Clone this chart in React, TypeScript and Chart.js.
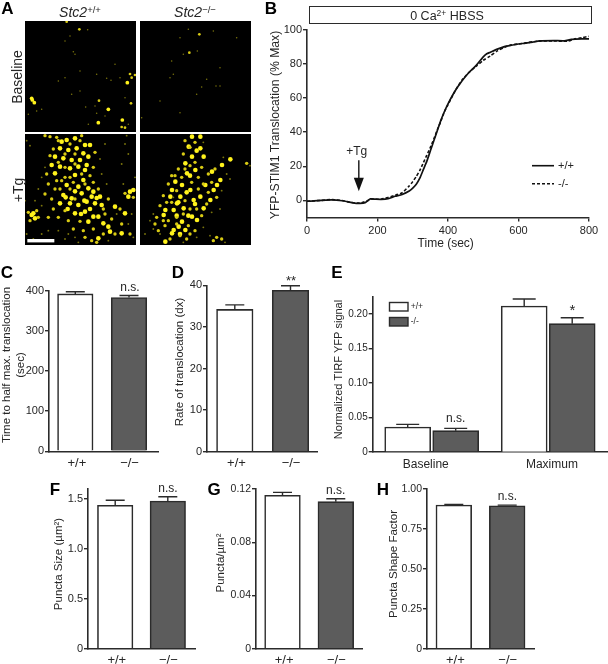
import { useEffect, useRef } from 'react';
import { Chart, registerables } from 'chart.js';

Chart.register(...registerables);

const FONT = '"Liberation Sans", Arial, sans-serif';
const INK = '#262626';
const AXIS = '#2b2b2b';
const GREY = '#5c5c5c';
const Y_BAND = 36;
const xBand = (B: number) => Math.min(22, 664 - B - 0.2);

// ---- Panel B: time course ----
const wtTime = [0, 20, 40, 70, 100, 120, 135, 150, 165, 172, 180, 195, 210, 230, 250, 270, 290, 300, 310, 320, 330, 340, 350, 360, 370, 380, 390, 400, 420, 440, 460, 480, 500, 510, 520, 540, 560, 580, 600, 620, 640, 660, 700, 730, 750, 780, 800];
const wtTranslocation = [-0.5, -0.3, 0, 0.3, -0.2, -1, -1.6, -1.7, -1.3, -0.2, 0.9, 0.7, 0.6, 1, 2.4, 3.5, 5.5, 7.2, 9.5, 13, 18, 23, 29, 35, 41, 47, 52, 56.5, 64, 70, 75, 79, 84, 85.8, 86.7, 88.5, 90, 90.8, 91.5, 92, 92.6, 93.3, 93.5, 93.4, 94.2, 94.5, 94.5];
const koTime = [0, 40, 70, 100, 120, 150, 172, 180, 210, 250, 270, 290, 300, 310, 320, 330, 340, 350, 360, 370, 380, 390, 400, 420, 440, 460, 480, 500, 520, 540, 560, 580, 600, 640, 660, 700, 740, 760, 780, 800];
const koTranslocation = [-0.5, 0, 0.5, -0.1, -1, -1.6, -0.2, 0.8, 0.7, 3, 4.5, 8.5, 11, 14, 17.5, 22, 26.5, 31, 36, 41.5, 46.5, 52, 56, 64, 70.5, 75, 78.5, 82, 84.5, 87.5, 89.5, 91, 91.5, 92.8, 93.2, 93.3, 93.2, 94.5, 95.2, 96];

// ---- Bar panels ----
const genotypes = ['+/+', '\u2212/\u2212'];
const halfMaxTime = [392, 383];
const halfMaxTimeErr = [5.5, 5];
const transRate = [34.2, 38.8];
const transRateErr = [1.1, 1.1];
const tirfGroups = ['Baseline', 'Maximum'];
const tirfWt = [0.0362, 0.2116];
const tirfWtErr = [0.0038, 0.0101];
const tirfKo = [0.0309, 0.186];
const tirfKoErr = [0.0034, 0.0086];
const punctaSize = [1.437, 1.48];
const punctaSizeErr = [0.05, 0.043];
const punctaDensity = [0.1153, 0.1105];
const punctaDensityErr = [0.0022, 0.0022];
const punctaShape = [0.9, 0.895];
const punctaShapeErr = [0.003, 0.004];

// ---- Panel A: puncta ----
type P = number[];
const baseWtBright: P[] = [[22,237],[28,245],[20,232],[307,185],[250,265],[220,305],[292,297]];
const baseWtMid: P[] = [[222,239],[125,2],[163,25],[315,159],[330,162],[318,247],[320,170],[290,318],[300,320]];
const baseWtDim: P[] = [[188,26],[285,170],[245,172],[182,258],[50,265],[215,277],[145,92],[135,45],[165,150],[165,210],[140,220],[100,180],[215,160],[258,178],[190,310],[210,255],[35,270],[10,280],[300,230],[270,130],[310,310],[120,60],[150,100],[240,285],[120,170]];
const baseKoBright: P[] = [];
const baseKoMid: P[] = [[178,40],[148,95]];
const baseKoDim: P[] = [[172,90],[240,140],[185,198],[228,195],[120,50],[145,25],[290,50],[240,195],[220,30],[100,160],[90,170],[200,175],[5,290],[120,275],[60,240],[95,120],[170,220],[130,100]];
const tgWtBright: P[] = [[110,23],[125,18],[150,13],[180,33],[195,33],[105,43],[130,48],[155,43],[175,58],[190,68],[90,68],[115,73],[140,78],[165,78],[185,93],[80,93],[105,98],[135,103],[160,98],[180,108],[90,118],[150,123],[175,138],[125,153],[160,158],[190,163],[205,173],[115,183],[140,193],[170,178],[200,188],[225,188],[105,208],[135,208],[160,213],[185,203],[210,208],[230,213],[150,238],[180,233],[205,248],[220,248],[190,263],[235,268],[250,278],[270,218],[315,173],[325,168],[310,188],[20,243],[30,253],[25,238],[220,313],[290,298],[255,293],[300,238],[122,190],[150,172],[178,200],[215,192],[128,225],[168,240],[195,225]];
const tgWtMid: P[] = [[60,5],[75,8],[95,10],[170,5],[135,30],[85,45],[210,55],[75,65],[65,120],[205,100],[195,125],[70,150],[95,140],[120,130],[145,145],[205,145],[220,165],[90,165],[60,180],[80,195],[250,195],[240,240],[85,225],[120,230],[130,260],[165,262],[205,285],[270,300],[235,300],[200,320],[325,190],[300,178],[285,225],[345,0],[35,230],[15,260],[10,235],[40,250],[175,290],[145,285],[235,225],[260,255],[290,270],[315,300],[100,250],[70,250],[215,325],[180,310],[100,20],[165,20],[120,60],[150,60],[100,85],[120,100],[150,90],[170,120],[110,140],[135,130],[105,165],[135,165],[180,150],[150,195]];
const tgWtDim: P[] = [[5,20],[15,35],[305,5],[300,30],[310,60],[290,90],[240,30],[50,130],[60,100],[40,165],[295,150],[330,130],[30,200],[50,215],[5,300],[25,315],[50,300],[70,290],[100,290],[120,315],[150,310],[160,325],[250,320],[275,240],[245,150],[230,120],[225,75],[320,240],[0,200],[130,300],[310,270],[325,310]];
const tgKoBright: P[] = [[156,8],[181,8],[146,38],[181,43],[191,68],[156,68],[136,88],[166,108],[141,118],[106,143],[126,153],[96,168],[121,188],[91,188],[76,228],[71,243],[101,228],[131,223],[161,198],[181,188],[216,113],[246,93],[271,76],[241,138],[221,168],[196,153],[156,248],[126,263],[101,288],[136,288],[171,258],[191,223],[76,323],[111,208],[151,168],[96,298],[116,278],[211,198],[231,153],[170,50],[150,125],[115,205],[140,175],[110,245],[145,245],[165,210],[120,300]];
const tgKoMid: P[] = [[135,20],[165,25],[130,60],[165,85],[115,105],[150,95],[95,125],[125,130],[175,130],[205,120],[85,150],[155,145],[70,185],[110,170],[175,165],[205,175],[60,215],[95,205],[135,200],[170,225],[200,210],[230,190],[215,145],[225,105],[185,100],[50,250],[85,260],[110,250],[150,225],[185,245],[75,275],[110,270],[145,275],[165,290],[120,305],[90,315],[140,315],[230,310],[245,315],[220,320],[320,88],[55,290],[45,270],[190,150],[150,40],[135,105],[105,125],[80,205],[70,260],[130,240],[150,300]];
const tgKoDim: P[] = [[330,95],[250,70],[190,25],[100,190],[40,285],[60,300],[30,260],[260,120],[245,170],[215,235],[190,280],[170,310],[210,305],[255,325],[40,240],[240,225],[270,135],[130,325],[15,300]];

type Note = { text: string; x: number; y: number; size?: number; rot?: boolean; align?: CanvasTextAlign };

function drawNotes(ctx: CanvasRenderingContext2D, notes: Note[]) {
  notes.forEach((n) => {
    ctx.save();
    ctx.translate(n.x, n.y);
    if (n.rot) ctx.rotate(-Math.PI / 2);
    ctx.font = `${n.size ?? 11}px ${FONT}`;
    ctx.fillStyle = INK;
    ctx.textAlign = n.align ?? 'center';
    ctx.textBaseline = 'middle';
    ctx.fillText(n.text, 0, 0);
    ctx.restore();
  });
}

const notesPlugin = (notes: Note[]) => ({
  id: 'notes',
  afterDraw(chart: any) {
    drawNotes(chart.ctx, notes);
  },
});

const errorBars = (capWidth: number) => ({
  id: 'errorBars',
  afterDatasetsDraw(chart: any) {
    const { ctx } = chart;
    chart.data.datasets.forEach((ds: any, i: number) => {
      chart.getDatasetMeta(i).data.forEach((bar: any, j: number) => {
        const top = chart.scales.y.getPixelForValue(ds.data[j].y + ds.errs[j]);
        ctx.save();
        ctx.strokeStyle = AXIS;
        ctx.lineWidth = 1.4;
        ctx.beginPath();
        ctx.moveTo(bar.x, bar.y);
        ctx.lineTo(bar.x, top);
        ctx.moveTo(bar.x - capWidth / 2, top);
        ctx.lineTo(bar.x + capWidth / 2, top);
        ctx.stroke();
        ctx.restore();
      });
    });
  },
});

const base = { responsive: false, animation: false, events: [] as string[] };
const noPlugins = { legend: { display: false }, tooltip: { enabled: false } };
const box = (L: number, T: number, R: number, B: number) => ({
  layout: { padding: { left: L - Y_BAND, top: T, right: 608 - R, bottom: 664 - B - xBand(B) } },
});

function yAxis(max: number, values: number[], labels: string[], size: number, min = 0) {
  return {
    type: 'linear',
    min,
    max,
    afterFit: (s: any) => { s.width = Y_BAND; },
    afterBuildTicks: (s: any) => { s.ticks = values.map((value) => ({ value })); },
    border: { display: true, color: AXIS, width: 1.6 },
    grid: { display: true, drawOnChartArea: false, drawTicks: true, tickLength: 4, color: AXIS, lineWidth: 1.4 },
    ticks: { font: { family: FONT, size }, color: INK, padding: 1, autoSkip: false, callback: (_: any, i: number) => labels[i] },
  };
}

function xBarAxis(B: number, min: number, max: number, values: number[], labels: string[], size: number, padding = 4) {
  return {
    type: 'linear',
    offset: false,
    min,
    max,
    afterFit: (s: any) => { s.height = xBand(B); },
    afterBuildTicks: (s: any) => { s.ticks = values.map((value) => ({ value })); },
    border: { display: true, color: AXIS, width: 1.6 },
    grid: { display: false, drawTicks: false },
    ticks: { font: { family: FONT, size }, color: INK, padding, autoSkip: false, maxRotation: 0, callback: (_: any, i: number) => labels[i] },
  };
}

type BarSpec = {
  L: number; T: number; R: number; B: number; c1: number; c2: number; barW: number; cap: number;
  values: number[]; errs: number[]; yMax: number; yTicks: number[]; yLabels: string[]; tickSize: number; notes: Note[];
};

function twoBar(s: BarSpec) {
  const span = s.c2 - s.c1;
  return {
    type: 'bar',
    data: {
      datasets: [{
        data: s.values.map((y, i) => ({ x: i + 1, y })),
        errs: s.errs,
        backgroundColor: ['#ffffff', GREY],
        borderColor: AXIS,
        borderWidth: 1.6,
        barThickness: s.barW,
      }],
    },
    options: {
      ...base,
      ...box(s.L, s.T, s.R, s.B),
      plugins: noPlugins,
      scales: {
        x: xBarAxis(s.B, 1 - (s.c1 - s.L) / span, 2 + (s.R - s.c2) / span, [1.03, 2.01], genotypes, 13),
        y: yAxis(s.yMax, s.yTicks, s.yLabels, s.tickSize),
      },
    },
    plugins: [errorBars(s.cap), notesPlugin(s.notes)],
  };
}

function micro(L: number, T: number, bright: P[], mid: P[], dim: P[], scale: number, scaleBar: boolean) {
  const set = (pts: P[], r: number, color: string) => ({
    data: pts.map(([x, y]) => ({ x, y, r: r * scale })),
    backgroundColor: color,
    borderWidth: 0,
  });
  return {
    type: 'bubble',
    data: { datasets: [set(dim, 0.9, '#7a740c'), set(mid, 1.6, '#d8ca14'), set(bright, 2.2, '#fff21c')] },
    options: {
      ...base,
      layout: { padding: { left: L, top: T, right: 608 - L - 111, bottom: 664 - T - 111 } },
      plugins: noPlugins,
      scales: {
        x: { type: 'linear', min: 0, max: 333, display: false },
        y: { type: 'linear', min: 0, max: 333, reverse: true, display: false },
      },
    },
    plugins: [{
      id: 'plate',
      beforeDraw(chart: any) {
        const a = chart.chartArea;
        chart.ctx.fillStyle = '#000';
        chart.ctx.fillRect(a.left, a.top, a.width, a.height);
      },
      beforeDatasetsDraw(chart: any) {
        chart.ctx.filter = 'blur(0.55px)';
      },
      afterDatasetsDraw(chart: any) {
        chart.ctx.filter = 'none';
      },
      afterDraw(chart: any) {
        if (!scaleBar) return;
        const { x, y } = chart.scales;
        chart.ctx.fillStyle = '#fff';
        chart.ctx.fillRect(x.getPixelForValue(7), y.getPixelForValue(315), 27, 3.4);
      },
    }],
    crisp: true,
  };
}

const timeCourse = {
  type: 'line',
  data: {
    datasets: [
      { data: wtTime.map((x, i) => ({ x, y: wtTranslocation[i] })), borderColor: '#111', borderWidth: 1.7, pointRadius: 0, tension: 0.2 },
      { data: koTime.map((x, i) => ({ x, y: koTranslocation[i] })), borderColor: '#111', borderWidth: 1.6, borderDash: [3, 2], pointRadius: 0, tension: 0.2 },
    ],
  },
  options: {
    ...base,
    ...box(307, 29.5, 589, 217.5),
    plugins: noPlugins,
    scales: {
      x: {
        type: 'linear',
        min: 0,
        max: 800,
        afterFit: (s: any) => { s.height = xBand(217.5); },
        afterBuildTicks: (s: any) => { s.ticks = [0, 200, 400, 600, 800].map((value) => ({ value })); },
        border: { display: true, color: AXIS, width: 1.6 },
        grid: { display: true, drawOnChartArea: false, drawTicks: true, tickLength: 4, color: AXIS, lineWidth: 1.4 },
        ticks: { font: { family: FONT, size: 11 }, color: INK, padding: 3, maxRotation: 0, autoSkip: false },
      },
      y: yAxis(100, [0, 20, 40, 60, 80, 100], ['0', '20', '40', '60', '80', '100'], 11, -10),
    },
  },
  plugins: [
    notesPlugin([
      { text: 'YFP-STIM1 Translocation (% Max)', x: 276, y: 125, size: 12.2, rot: true },
      { text: 'Time (sec)', x: 445.7, y: 243.7, size: 12 },
      { text: '+Tg', x: 356.7, y: 151.7, size: 12 },
      { text: '+/+', x: 558, y: 165.7, size: 11, align: 'left' },
      { text: '-/-', x: 558, y: 183.7, size: 11, align: 'left' },
    ]),
    {
      id: 'arrowAndKey',
      afterDatasetsDraw(chart: any) {
        const { ctx } = chart;
        const { x, y } = chart.scales;
        const ax = x.getPixelForValue(147);
        ctx.save();
        ctx.strokeStyle = '#111';
        ctx.fillStyle = '#111';
        ctx.lineWidth = 1.4;
        ctx.beginPath();
        ctx.moveTo(ax, y.getPixelForValue(23.5));
        ctx.lineTo(ax, y.getPixelForValue(13));
        ctx.stroke();
        ctx.beginPath();
        ctx.moveTo(ax - 5, y.getPixelForValue(13.2));
        ctx.lineTo(ax + 5, y.getPixelForValue(13.2));
        ctx.lineTo(ax, y.getPixelForValue(5.4));
        ctx.closePath();
        ctx.fill();
        ctx.lineWidth = 1.6;
        ctx.beginPath();
        ctx.moveTo(532, 165.7);
        ctx.lineTo(554, 165.7);
        ctx.stroke();
        ctx.setLineDash([3, 2]);
        ctx.beginPath();
        ctx.moveTo(532, 183.7);
        ctx.lineTo(554, 183.7);
        ctx.stroke();
        ctx.restore();
      },
    },
  ],
};

const tirfSpan = 548.2 - 431.7;
const tirf = {
  type: 'bar',
  data: {
    datasets: [
      { data: tirfWt.map((y, i) => ({ x: i + 1, y })), errs: tirfWtErr, backgroundColor: '#ffffff', borderColor: AXIS, borderWidth: 1.6, barThickness: 48, maxBarThickness: 46 },
      { data: tirfKo.map((y, i) => ({ x: i + 1, y })), errs: tirfKoErr, backgroundColor: GREY, borderColor: AXIS, borderWidth: 1.6, barThickness: 48, maxBarThickness: 46 },
    ],
  },
  options: {
    ...base,
    ...box(372.7, 297, 607, 452),
    plugins: noPlugins,
    scales: {
      x: xBarAxis(452, 1 - (431.7 - 372.7) / tirfSpan, 2 + (607 - 548.2) / tirfSpan, [0.949, 2.032], tirfGroups, 12, 5),
      y: yAxis(0.2246, [0, 0.05, 0.1, 0.15, 0.2], ['0', '0.05', '0.10', '0.15', '0.20'], 10),
    },
  },
  plugins: [
    errorBars(23),
    notesPlugin([
      { text: 'Normalized TIRF YFP signal', x: 339, y: 369.5, size: 11, rot: true },
      { text: 'n.s.', x: 455.7, y: 418.3, size: 12 },
      { text: '*', x: 572.3, y: 311, size: 15 },
      { text: '+/+', x: 410.7, y: 306.5, size: 8.5, align: 'left' },
      { text: '-/-', x: 410.7, y: 321.7, size: 8.5, align: 'left' },
    ]),
    {
      id: 'tirfKey',
      afterDatasetsDraw(chart: any) {
        const { ctx } = chart;
        ctx.save();
        ctx.strokeStyle = AXIS;
        ctx.lineWidth = 1.4;
        ctx.fillStyle = '#fff';
        ctx.fillRect(389.5, 302.5, 18.5, 8.5);
        ctx.strokeRect(389.5, 302.5, 18.5, 8.5);
        ctx.fillStyle = GREY;
        ctx.fillRect(389.5, 317.5, 18.5, 8.5);
        ctx.strokeRect(389.5, 317.5, 18.5, 8.5);
        ctx.restore();
      },
    },
  ],
};

const configs: any[] = [
  micro(25, 21, baseWtBright, baseWtMid, baseWtDim, 0.85, false),
  micro(140, 21, baseKoBright, baseKoMid, baseKoDim, 0.85, false),
  micro(25, 134, tgWtBright, tgWtMid, tgWtDim, 1.05, true),
  micro(140, 134, tgKoBright, tgKoMid, tgKoDim, 1.05, false),
  timeCourse,
  twoBar({
    L: 49, T: 290.7, R: 158, B: 451.3, c1: 75.3, c2: 129, barW: 35.5, cap: 19,
    values: halfMaxTime, errs: halfMaxTimeErr, yMax: 400,
    yTicks: [0, 100, 200, 300, 400], yLabels: ['0', '100', '200', '300', '400'], tickSize: 11,
    notes: [
      { text: 'Time to half max. translocation', x: 6.7, y: 365, size: 11.5, rot: true },
      { text: '(sec)', x: 20.7, y: 365, size: 11.5, rot: true },
      { text: 'n.s.', x: 130, y: 288, size: 12 },
    ],
  }),
  twoBar({
    L: 207, T: 285.3, R: 317, B: 451.7, c1: 234.8, c2: 290.5, barW: 36.5, cap: 19,
    values: transRate, errs: transRateErr, yMax: 40,
    yTicks: [0, 10, 20, 30, 40], yLabels: ['0', '10', '20', '30', '40'], tickSize: 11,
    notes: [
      { text: 'Rate of translocation (dx)', x: 180, y: 362, size: 11.5, rot: true },
      { text: '**', x: 291, y: 281, size: 13 },
    ],
  }),
  tirf,
  twoBar({
    L: 88, T: 488.3, R: 195, B: 648.7, c1: 115.2, c2: 167.8, barW: 35.5, cap: 19,
    values: punctaSize, errs: punctaSizeErr, yMax: 1.607,
    yTicks: [0, 0.5, 1, 1.5], yLabels: ['0', '0.5', '1.0', '1.5'], tickSize: 11,
    notes: [
      { text: 'Puncta Size (\u00b5m\u00b2)', x: 59.3, y: 564, size: 11.5, rot: true },
      { text: 'n.s.', x: 168, y: 489, size: 12 },
    ],
  }),
  twoBar({
    L: 256, T: 489, R: 362.7, B: 648.7, c1: 282.5, c2: 335.8, barW: 35.7, cap: 19,
    values: punctaDensity, errs: punctaDensityErr, yMax: 0.12,
    yTicks: [0, 0.04, 0.08, 0.12], yLabels: ['0', '0.04', '0.08', '0.12'], tickSize: 10.5,
    notes: [
      { text: 'Puncta/\u00b5m\u00b2', x: 220.7, y: 563, size: 11.5, rot: true },
      { text: 'n.s.', x: 335.7, y: 490.7, size: 12 },
    ],
  }),
  twoBar({
    L: 427, T: 489, R: 534, B: 648.7, c1: 453.8, c2: 507.2, barW: 35.7, cap: 19,
    values: punctaShape, errs: punctaShapeErr, yMax: 1,
    yTicks: [0, 0.25, 0.5, 0.75, 1], yLabels: ['0', '0.25', '0.50', '0.75', '1.00'], tickSize: 10.5,
    notes: [
      { text: 'Puncta Shape Factor', x: 394, y: 564, size: 11.5, rot: true },
      { text: 'n.s.', x: 507.3, y: 496.7, size: 12 },
    ],
  }),
];

function Plot({ config }: { config: any }) {
  const ref = useRef<HTMLCanvasElement>(null);
  useEffect(() => {
    const chart = new Chart(ref.current as HTMLCanvasElement, config);
    return () => chart.destroy();
  }, [config]);
  return (
    <canvas
      ref={ref}
      width={608}
      height={664}
      style={{ position: 'absolute', left: 0, top: 0, width: 608, height: 664, filter: config.crisp ? undefined : 'blur(0.3px)' }}
    />
  );
}

function Label({ x, y, size, bold, rot, children }: any) {
  return (
    <div
      style={{
        position: 'absolute',
        left: x,
        top: y,
        transform: `translate(-50%, -50%)${rot ? ' rotate(-90deg)' : ''}`,
        font: `${bold ? 'bold ' : ''}${size}px ${FONT}`,
        color: bold ? '#000' : INK,
        whiteSpace: 'nowrap',
        lineHeight: 1,
      }}
    >
      {children}
    </div>
  );
}

const supStyle = { fontSize: '0.68em', verticalAlign: '0.45em', lineHeight: 0 };

export default function App() {
  return (
    <div style={{ position: 'absolute', left: 0, top: 0, width: 608, height: 664, background: '#fff', overflow: 'hidden' }}>
      {configs.map((c, i) => <Plot key={i} config={c} />)}
      <div style={{ position: 'absolute', left: 309, top: 6, width: 281, height: 16, border: `1.5px solid ${AXIS}` }} />
      <Label x={447} y={15.5} size={12.5}>0 Ca<span style={supStyle}>2+</span> HBSS</Label>
      <Label x={80} y={11.5} size={14}><i>Stc2</i><span style={supStyle}>+/+</span></Label>
      <Label x={195} y={11.5} size={14}><i>Stc2</i><span style={supStyle}>{'\u2212/\u2212'}</span></Label>
      <Label x={16.7} y={77} size={14} rot>Baseline</Label>
      <Label x={17.7} y={190} size={14} rot>+Tg</Label>
      <Label x={7.5} y={8} size={17} bold>A</Label>
      <Label x={271} y={8} size={17} bold>B</Label>
      <Label x={7} y={272} size={17} bold>C</Label>
      <Label x={178} y={272} size={17} bold>D</Label>
      <Label x={337} y={272} size={17} bold>E</Label>
      <Label x={55} y={489} size={17} bold>F</Label>
      <Label x={214} y={489} size={17} bold>G</Label>
      <Label x={383} y={489} size={17} bold>H</Label>
    </div>
  );
}
